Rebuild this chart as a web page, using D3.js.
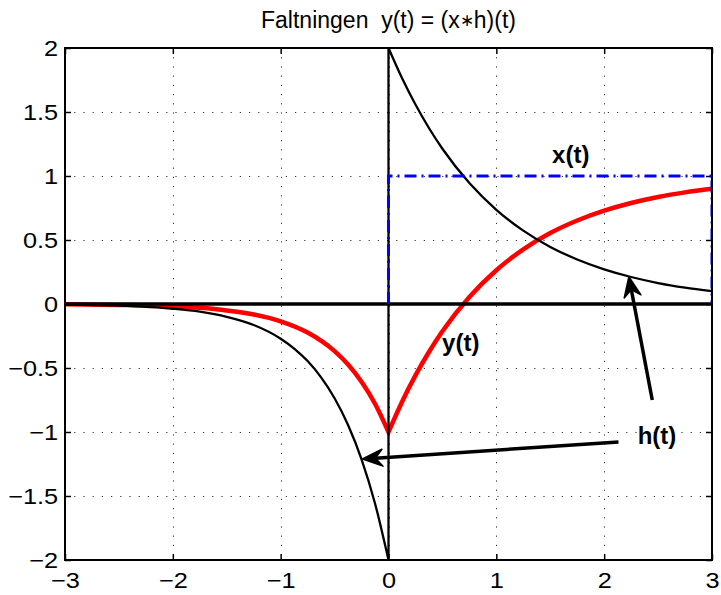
<!DOCTYPE html>
<html>
<head>
<meta charset="utf-8">
<script src="https://cdn.jsdelivr.net/npm/d3@7"></script>
<style>
  body { margin: 0; background: #fff; }
  svg { font-family: "Liberation Sans", Arial, sans-serif; }
  .tick line { stroke: #000; stroke-width: 1.5; }
  .tick text { font-size: 22px; fill: #000; }
</style>
</head>
<body>
<div id="chart"></div>
<script>
// Tick values
const xTicks = [-3, -2, -1, 0, 1, 2, 3];
const yTicks = [-2, -1.5, -1, -0.5, 0, 0.5, 1, 1.5, 2];

// h(t): left branch (t <= 0) and right branch (t >= 0)
const hNegT = [-3, -2.5, -2, -1.75, -1.5, -1.25, -1, -0.875, -0.75, -0.625, -0.5, -0.375, -0.25, -0.125, 0];
const hNegV = [-0.005, -0.013, -0.037, -0.06, -0.1, -0.164, -0.271, -0.348, -0.446, -0.573, -0.736, -0.945, -1.213, -1.558, -2];
const hPosT = [0, 0.125, 0.25, 0.375, 0.5, 0.75, 1, 1.25, 1.5, 1.75, 2, 2.25, 2.5, 2.75, 3];
const hPosV = [2, 1.765, 1.558, 1.375, 1.213, 0.945, 0.736, 0.573, 0.446, 0.348, 0.271, 0.211, 0.164, 0.128, 0.1];

// y(t) = (x*h)(t)
const yNegT = [-3, -2.5, -2, -1.75, -1.5, -1.25, -1, -0.75, -0.5, -0.375, -0.25, -0.125, 0];
const yNegV = [-0.002, -0.007, -0.018, -0.03, -0.05, -0.082, -0.135, -0.223, -0.368, -0.472, -0.607, -0.779, -1];
const yPosT = [0, 0.125, 0.25, 0.375, 0.5, 0.75, 1, 1.25, 1.5, 1.75, 2, 2.25, 2.5, 2.75, 3];
const yPosV = [-1, -0.765, -0.558, -0.375, -0.213, 0.055, 0.264, 0.427, 0.554, 0.652, 0.729, 0.789, 0.836, 0.872, 0.9];

// x(t): unit step
const xStepT = [0, 0, 3, 3];
const xStepV = [0, 1, 1, 0];

// zero line
const zeroT = [-3, 3];
const zeroV = [0, 0];

// annotations: [label, x, y] and arrows [fromT, fromV, toT, toV]
const labels = [
    ['x(t)', 1.69, 1.1],
    ['y(t)', 0.67, -0.37],
    ['h(t)', 2.49, -1.09]
];
const arrows = [
    [2.133, -1.078, -0.241, -1.211],
    [2.446, -0.75, 2.229, 0.213]
];

const width = 721, height = 595;
const box = { left: 65, right: 712, top: 48, bottom: 560 };
const stretch = 1.15; // tick text is drawn a little wide, as in the reference

const svg = d3.select('#chart').append('svg')
    .attr('width', width)
    .attr('height', height);

const x = d3.scaleLinear().domain([-3, 3]).range([box.left, box.right]);
const y = d3.scaleLinear().domain([-2, 2]).range([box.bottom, box.top]);

const fmt = d => d3.format('')(d).replace('-', '\u2212');

// grid
const grid = svg.append('g')
    .attr('stroke', '#333')
    .attr('stroke-width', 1)
    .attr('stroke-dasharray', '1.2,8');

grid.selectAll('.gx')
    .data(xTicks)
    .enter()
    .append('line')
    .attr('x1', d => Math.round(x(d)) + 0.5)
    .attr('x2', d => Math.round(x(d)) + 0.5)
    .attr('y1', box.top)
    .attr('y2', box.bottom);

grid.selectAll('.gy')
    .data(yTicks)
    .enter()
    .append('line')
    .attr('y1', d => Math.round(y(d)) + 0.5)
    .attr('y2', d => Math.round(y(d)) + 0.5)
    .attr('x1', box.left)
    .attr('x2', box.right);

// axes with inward ticks
svg.append('g')
    .attr('transform', `translate(0,${box.bottom})`)
    .call(d3.axisBottom(x).tickValues(xTicks).tickFormat(fmt).tickSize(-6).tickPadding(12))
    .call(g => g.select('.domain').remove())
    .call(g => g.selectAll('.tick text').attr('transform', `scale(${stretch},1)`));

svg.append('g')
    .attr('transform', `translate(${box.left},0)`)
    .call(d3.axisLeft(y).tickValues(yTicks).tickFormat(fmt).tickSize(-6).tickPadding(6))
    .call(g => g.select('.domain').remove())
    .call(g => g.selectAll('.tick text').attr('transform', `scale(${stretch},1)`));

svg.append('g')
    .attr('transform', `translate(0,${box.top})`)
    .call(d3.axisTop(x).tickValues(xTicks).tickFormat('').tickSize(-6))
    .call(g => g.select('.domain').remove());

svg.append('g')
    .attr('transform', `translate(${box.right},0)`)
    .call(d3.axisRight(y).tickValues(yTicks).tickFormat('').tickSize(-6))
    .call(g => g.select('.domain').remove());

svg.selectAll('.tick text').style('font-size', '22px');

// clip for the curves
svg.append('clipPath')
    .attr('id', 'plot-clip')
    .append('rect')
    .attr('x', box.left)
    .attr('y', box.top - 1)
    .attr('width', box.right - box.left)
    .attr('height', box.bottom - box.top + 2);

const plot = svg.append('g').attr('clip-path', 'url(#plot-clip)');

const pts = (ts, vs) => ts.map((t, i) => [t, vs[i]]);
const smooth = d3.line()
    .x(d => x(d[0]))
    .y(d => y(d[1]))
    .curve(d3.curveMonotoneX);
const straight = d3.line()
    .x(d => x(d[0]))
    .y(d => y(d[1]));

// join two pieces into one path so the corner at t = 0 stays sharp
const joined = (a, b) => smooth(a) + smooth(b).replace(/^M/, 'L');

// y(t)
plot.append('path')
    .attr('d', joined(pts(yNegT, yNegV), pts(yPosT, yPosV)))
    .attr('fill', 'none')
    .attr('stroke', '#ff0000')
    .attr('stroke-width', 4.5)
    .attr('stroke-linejoin', 'miter');

// zero line
plot.append('path')
    .attr('d', straight(pts(zeroT, zeroV)))
    .attr('fill', 'none')
    .attr('stroke', '#000')
    .attr('stroke-width', 3.5);

// h(t)
plot.append('path')
    .attr('d', joined(pts(hNegT, hNegV), pts(hPosT, hPosV)))
    .attr('fill', 'none')
    .attr('stroke', '#000')
    .attr('stroke-width', 2.3);

// x(t)
plot.append('path')
    .attr('d', straight(pts(xStepT, xStepV)))
    .attr('fill', 'none')
    .attr('stroke', '#0000ff')
    .attr('stroke-width', 3)
    .attr('stroke-dasharray', '12,5,2,5');

// box
svg.append('rect')
    .attr('x', box.left)
    .attr('y', box.top)
    .attr('width', box.right - box.left)
    .attr('height', box.bottom - box.top)
    .attr('fill', 'none')
    .attr('stroke', '#000')
    .attr('stroke-width', 2);

// arrows
arrows.forEach(a => {
    const x0 = x(a[0]), y0 = y(a[1]), x1 = x(a[2]), y1 = y(a[3]);
    const ang = Math.atan2(y1 - y0, x1 - x0);
    const len = 20, half = 8.5, notch = 13;
    const ux = Math.cos(ang), uy = Math.sin(ang);
    const px = -uy, py = ux;
    svg.append('line')
        .attr('x1', x0).attr('y1', y0)
        .attr('x2', x1 - ux * notch).attr('y2', y1 - uy * notch)
        .attr('stroke', '#000')
        .attr('stroke-width', 3.5);
    const head = [
        [x1, y1],
        [x1 - ux * len + px * half, y1 - uy * len + py * half],
        [x1 - ux * notch, y1 - uy * notch],
        [x1 - ux * len - px * half, y1 - uy * len - py * half]
    ];
    svg.append('path')
        .attr('d', 'M' + head.map(p => p.join(',')).join('L') + 'Z')
        .attr('fill', '#000')
        .attr('stroke', '#000')
        .attr('stroke-width', 1.5)
        .attr('stroke-linejoin', 'round');
});

// labels
svg.selectAll('.lbl')
    .data(labels)
    .enter()
    .append('text')
    .attr('x', d => x(d[1]))
    .attr('y', d => y(d[2]))
    .attr('text-anchor', 'middle')
    .style('font-size', '24px')
    .style('font-weight', 'bold')
    .text(d => d[0]);

// title
const title = svg.append('text')
    .attr('x', (box.left + box.right) / 2)
    .attr('y', 28)
    .attr('text-anchor', 'middle')
    .style('font-size', '23px')
    .style('white-space', 'pre');
title.append('tspan').text('Faltningen  y(t) = (x');
title.append('tspan').style('font-size', '17px').attr('dy', -2).text('\u2217');
title.append('tspan').attr('dy', 2).text('h)(t)');
</script>
</body>
</html>
